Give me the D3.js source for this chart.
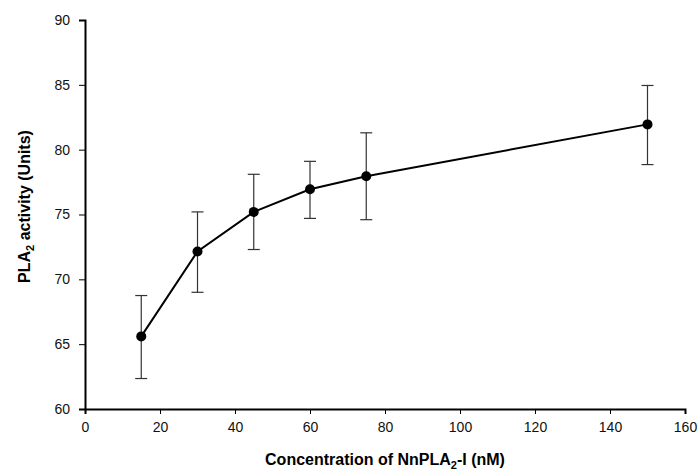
<!DOCTYPE html>
<html>
<head>
<meta charset="utf-8">
<script src="https://cdn.jsdelivr.net/npm/d3@7"></script>
<style>
  body { margin: 0; background: #fff; }
  text { font-family: "Liberation Sans", Arial, sans-serif; }
</style>
</head>
<body>
<div id="chart"></div>
<script>
// concentration (nM) and activity means with error bar ends
const concentration = [15, 30, 45, 60, 75, 150];
const activity = [65.6, 72.15, 75.2, 76.95, 77.95, 81.95];
const errLow = [62.35, 69.0, 72.3, 74.7, 74.6, 78.85];
const errHigh = [68.75, 75.2, 78.1, 79.1, 81.3, 84.95];
const xTicks = [0, 20, 40, 60, 80, 100, 120, 140, 160];
const yTicks = [60, 65, 70, 75, 80, 85, 90];

const width = 700;
const height = 472;
const margin = { top: 20, right: 15, bottom: 63, left: 85 };

const points = concentration.map((c, i) => ({
  x: c,
  y: activity[i],
  lo: errLow[i],
  hi: errHigh[i],
}));

const svg = d3
  .select("#chart")
  .append("svg")
  .attr("width", width)
  .attr("height", height);

const x = d3
  .scaleLinear()
  .domain([0, 160])
  .range([margin.left, width - margin.right]);

const y = d3
  .scaleLinear()
  .domain([60, 90])
  .range([height - margin.bottom, margin.top]);

// axes
const xAxis = svg
  .append("g")
  .attr("transform", `translate(0, ${y(60)})`)
  .call(d3.axisBottom(x).tickValues(xTicks).tickSizeOuter(0).tickSize(5).tickPadding(8));

const yAxis = svg
  .append("g")
  .attr("transform", `translate(${x(0)}, 0)`)
  .call(d3.axisLeft(y).tickValues(yTicks).tickSizeOuter(0).tickSize(6).tickPadding(9));

[xAxis, yAxis].forEach((ax) => {
  ax.select(".domain").attr("stroke", "#000").attr("stroke-width", 2);
  ax.selectAll(".tick line").attr("stroke", "#000");
  ax.selectAll(".tick text")
    .attr("font-size", 14)
    .attr("fill", "#111")
    .style("font-family", "'Liberation Sans', Arial, sans-serif");
});

// error bars
const capHalf = 6;
const eb = svg.append("g").attr("stroke", "#333").attr("stroke-width", 1.2);

eb.selectAll("line.v")
  .data(points)
  .join("line")
  .attr("x1", (d) => x(d.x))
  .attr("x2", (d) => x(d.x))
  .attr("y1", (d) => y(d.lo))
  .attr("y2", (d) => y(d.hi));

eb.selectAll("line.hi")
  .data(points)
  .join("line")
  .attr("class", "hi")
  .attr("x1", (d) => x(d.x) - capHalf)
  .attr("x2", (d) => x(d.x) + capHalf)
  .attr("y1", (d) => y(d.hi))
  .attr("y2", (d) => y(d.hi));

eb.selectAll("line.lo")
  .data(points)
  .join("line")
  .attr("class", "lo")
  .attr("x1", (d) => x(d.x) - capHalf)
  .attr("x2", (d) => x(d.x) + capHalf)
  .attr("y1", (d) => y(d.lo))
  .attr("y2", (d) => y(d.lo));

// line
svg
  .append("path")
  .datum(points)
  .attr("fill", "none")
  .attr("stroke", "#000")
  .attr("stroke-width", 2)
  .attr(
    "d",
    d3
      .line()
      .x((d) => x(d.x))
      .y((d) => y(d.y))
  );

svg
  .append("g")
  .selectAll("circle")
  .data(points)
  .join("circle")
  .attr("cx", (d) => x(d.x))
  .attr("cy", (d) => y(d.y))
  .attr("r", 5)
  .attr("fill", "#000");

// axis titles
const xTitle = svg
  .append("text")
  .attr("x", (x(0) + x(160)) / 2)
  .attr("y", 465)
  .attr("text-anchor", "middle")
  .attr("font-size", 16)
  .attr("font-weight", "bold");
xTitle.append("tspan").text("Concentration of NnPLA");
xTitle.append("tspan").attr("font-size", 11).attr("dy", 4).text("2");
xTitle.append("tspan").attr("dy", -4).text("-I (nM)");

const yTitle = svg
  .append("text")
  .attr("transform", `translate(30, ${(y(60) + y(90)) / 2 - 8}) rotate(-90)`)
  .attr("text-anchor", "middle")
  .attr("font-size", 16)
  .attr("font-weight", "bold");
yTitle.append("tspan").text("PLA");
yTitle.append("tspan").attr("font-size", 11).attr("dy", 4).text("2");
yTitle.append("tspan").attr("dy", -4).text(" activity (Units)");
</script>
</body>
</html>
